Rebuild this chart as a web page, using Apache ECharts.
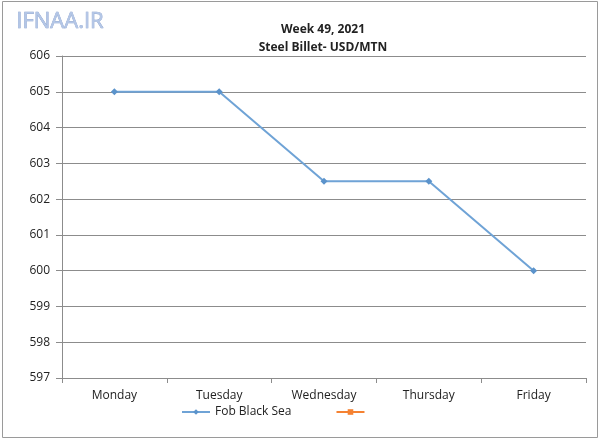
<!DOCTYPE html>
<html>
<head>
<meta charset="utf-8">
<script src="https://cdn.jsdelivr.net/npm/echarts@6/dist/echarts.min.js"></script>
<style>
  html, body { margin: 0; padding: 0; background: #fff; }
  #chart { width: 600px; height: 440px; }
</style>
</head>
<body>
<div id="chart"></div>
<script>
  // data
  const days = ["Monday", "Tuesday", "Wednesday", "Thursday", "Friday"];
  const fobBlackSea = [605, 605, 602.5, 602.5, 600];
  const otherSeries = [null, null, null, null, null];

  const chart = echarts.init(document.getElementById("chart"));
  const font = "'Open Sans', 'Noto Sans', sans-serif";

  chart.setOption({
    backgroundColor: "#fff",
    animation: false,
    title: {
      text: "Week 49, 2021\nSteel Billet- USD/MTN",
      left: 318,
      top: 16,
      textAlign: "center",
      textStyle: {
        fontFamily: font,
        fontSize: 12,
        fontWeight: "bold",
        color: "#222",
        lineHeight: 18,
      },
    },
    graphic: [
      {
        type: "rect",
        shape: { x: 2.5, y: 1.5, width: 595, height: 436 },
        style: { fill: "none", stroke: "#9a9a9a", lineWidth: 1 },
      },
      {
        type: "text",
        left: 16,
        top: 10,
        style: {
          text: "IFNAA.IR",
          fontFamily: font,
          fontSize: 22,
          fill: "#b3c6e6",
          stroke: "#7f97c8",
          lineWidth: 0.6,
          shadowColor: "rgba(60,80,140,0.45)",
          shadowBlur: 2,
          shadowOffsetX: 1,
          shadowOffsetY: 1,
        },
      },
    ],
    legend: {
      bottom: 17,
      left: 176,
      itemGap: 44,
      itemWidth: 28,
      itemHeight: 7,
      textStyle: { fontFamily: font, fontSize: 12, color: "#222" },
      data: ["Fob Black Sea", " "],
    },
    grid: {
      left: 62,
      right: 14,
      top: 56,
      bottom: 62,
    },
    xAxis: {
      type: "category",
      data: days,
      boundaryGap: true,
      axisLine: { lineStyle: { color: "#8c8c8c" } },
      axisTick: { show: true, length: 5, lineStyle: { color: "#8c8c8c" } },
      axisLabel: { fontFamily: font, fontSize: 12, color: "#222", margin: 12 },
      splitLine: { show: false },
    },
    yAxis: {
      type: "value",
      min: 597,
      max: 606,
      interval: 1,
      axisLine: { show: true, lineStyle: { color: "#8c8c8c" } },
      axisTick: { show: true, length: 6, lineStyle: { color: "#8c8c8c" } },
      axisLabel: { fontFamily: font, fontSize: 12, color: "#222", margin: 12 },
      splitLine: { show: true, lineStyle: { color: "#8c8c8c", width: 1 } },
    },
    series: [
      {
        name: "Fob Black Sea",
        type: "line",
        data: fobBlackSea,
        symbol: "diamond",
        symbolSize: 7,
        itemStyle: { color: "#5b93cb" },
        lineStyle: { color: "#6fa3d6", width: 2 },
      },
      {
        name: " ",
        type: "line",
        data: otherSeries,
        symbol: "rect",
        symbolSize: 7,
        itemStyle: { color: "#f58232" },
        lineStyle: { color: "#f58232", width: 2 },
      },
    ],
  });
</script>
</body>
</html>
